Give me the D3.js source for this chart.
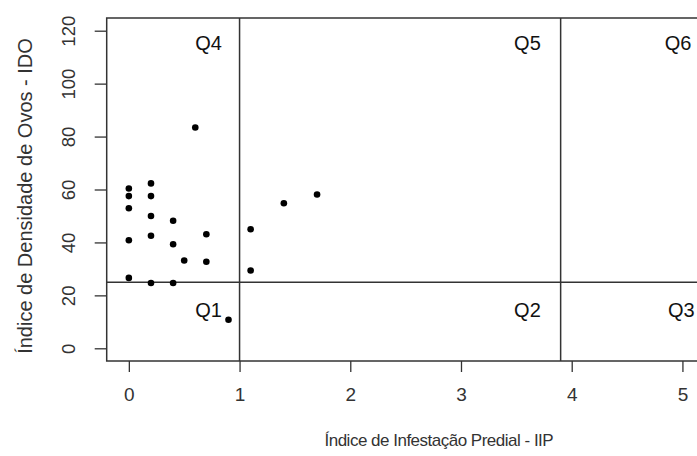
<!DOCTYPE html>
<html>
<head>
<meta charset="utf-8">
<script src="https://cdn.jsdelivr.net/npm/d3@7"></script>
<style>
  body { margin: 0; background: #fff; }
  svg { display: block; font-family: "Liberation Sans", Arial, sans-serif; }
</style>
</head>
<body>
<script>
/* global d3 */

// IIP (x) and IDO (y) per point
var iip = [0, 0, 0, 0, 0, 0.2, 0.2, 0.2, 0.2, 0.2, 0.4, 0.4, 0.4, 0.5, 0.6, 0.7, 0.7, 0.9, 1.1, 1.1, 1.4, 1.7];
var ido = [60.4, 57.5, 52.9, 40.8, 26.6, 62.3, 57.5, 50.0, 42.5, 24.7, 48.2, 39.3, 24.7, 33.2, 83.4, 43.1, 32.7, 10.8, 45.0, 29.4, 54.8, 58.1];

var xTicks = [0, 1, 2, 3, 4, 5];
var yTicks = [0, 20, 40, 60, 80, 100, 120];

// quadrant cut lines
var cutX = [1, 3.9];
var cutY = [25];

var quadNames = ["Q1", "Q2", "Q3", "Q4", "Q5", "Q6"];
var quadX     = [0.72, 3.6, 4.99, 0.72, 3.6, 4.96];
var quadY     = [14.5, 14.5, 14.5, 115.5, 115.5, 115.5];

var xTitle = "Índice de Infestação Predial - IIP";
var yTitle = "Índice de Densidade de Ovos - IDO";

var width  = 697;
var height = 456;

var svg = d3.select("body").append("svg")
    .attr("width", width)
    .attr("height", height);

// plot box runs past the right edge (cropped figure)
var box = { left: 106.7, top: 18, bottom: 361, right: 771 };

var x = d3.scaleLinear().domain([-0.2, 5.8]).range([box.left, box.right]);
var y = d3.scaleLinear().domain([-4.8, 124.8]).range([box.bottom, box.top]);

var ink = "#333";

// x axis
var xAxis = svg.append("g")
    .attr("transform", `translate(0,${box.bottom})`)
    .call(d3.axisBottom(x).tickValues(xTicks).tickFormat(d3.format("d"))
        .tickSize(11).tickPadding(16).tickSizeOuter(0));
xAxis.select(".domain").remove();
xAxis.selectAll("line").attr("stroke", ink).attr("stroke-width", 1.3);
xAxis.selectAll("text").attr("font-size", 19).attr("fill", ink);

// y axis
var yAxis = svg.append("g")
    .attr("transform", `translate(${box.left},0)`)
    .call(d3.axisLeft(y).tickValues(yTicks).tickFormat(d3.format("d"))
        .tickSize(12).tickSizeOuter(0));
yAxis.select(".domain").remove();
yAxis.selectAll("line").attr("stroke", ink).attr("stroke-width", 1.3);
yAxis.selectAll("text")
    .attr("font-size", 18.5)
    .attr("fill", ink)
    .attr("text-anchor", "middle")
    .attr("dy", null)
    .attr("x", null)
    .attr("transform", "translate(-32,0) rotate(-90)");

// frame
svg.append("rect")
    .attr("x", box.left)
    .attr("y", box.top)
    .attr("width", box.right - box.left)
    .attr("height", box.bottom - box.top)
    .attr("fill", "none")
    .attr("stroke", ink)
    .attr("stroke-width", 1.5);

// quadrant lines
svg.selectAll(".vcut")
    .data(cutX)
    .enter().append("line")
    .attr("x1", (d) => x(d)).attr("x2", (d) => x(d))
    .attr("y1", box.top).attr("y2", box.bottom)
    .attr("stroke", ink).attr("stroke-width", 1.5);

svg.selectAll(".hcut")
    .data(cutY)
    .enter().append("line")
    .attr("x1", box.left).attr("x2", box.right)
    .attr("y1", (d) => y(d)).attr("y2", (d) => y(d))
    .attr("stroke", ink).attr("stroke-width", 1.5);

// quadrant labels
svg.selectAll(".quad")
    .data(quadNames)
    .enter().append("text")
    .attr("x", (d, i) => x(quadX[i]))
    .attr("y", (d, i) => y(quadY[i]))
    .attr("dy", "0.35em")
    .attr("text-anchor", "middle")
    .attr("font-size", 20)
    .attr("fill", "#111")
    .text((d) => d);

// points
svg.selectAll(".pt")
    .data(iip)
    .enter().append("circle")
    .attr("cx", (d) => x(d))
    .attr("cy", (d, i) => y(ido[i]))
    .attr("r", 3.3)
    .attr("fill", "#000");

// axis titles
svg.append("text")
    .attr("x", (box.left + box.right) / 2)
    .attr("y", 446)
    .attr("text-anchor", "middle")
    .attr("font-size", 17)
    .attr("letter-spacing", -0.5)
    .attr("fill", ink)
    .text(xTitle);

svg.append("text")
    .attr("transform", `translate(32,196) rotate(-90)`)
    .attr("text-anchor", "middle")
    .attr("font-size", 20)
    .attr("fill", ink)
    .text(yTitle);
</script>
</body>
</html>
